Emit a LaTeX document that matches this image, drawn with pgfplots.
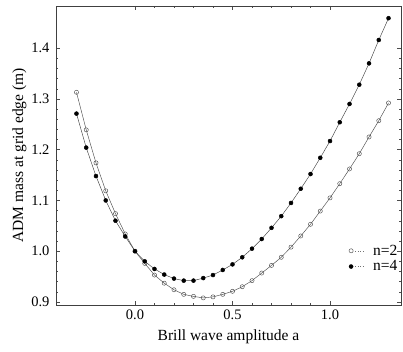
\documentclass[border=0pt]{standalone}
\usepackage{pgfplots}
\pgfplotsset{compat=1.18}
\usepackage{fontspec}
\setmainfont{Liberation Serif}

% ADM mass at the grid edge versus Brill wave amplitude, n = 2 and n = 4
\pgfplotstableread{
a      n2     n4
-0.30  1.313  1.271
-0.25  1.239  1.204
-0.20  1.174  1.148
-0.15  1.119  1.100
-0.10  1.074  1.060
-0.05  1.034  1.029
 0.00  1.000  1.000
 0.05  0.976  0.980
 0.10  0.953  0.965
 0.15  0.937  0.954
 0.20  0.924  0.946
 0.25  0.915  0.942
 0.30  0.911  0.942
 0.35  0.908  0.947
 0.40  0.910  0.953
 0.45  0.915  0.963
 0.50  0.921  0.974
 0.55  0.930  0.988
 0.60  0.942  1.005
 0.65  0.957  1.024
 0.70  0.972  1.046
 0.75  0.988  1.069
 0.80  1.008  1.095
 0.85  1.030  1.123
 0.90  1.053  1.152
 0.95  1.079  1.184
 1.00  1.105  1.217
 1.05  1.133  1.254
 1.10  1.162  1.290
 1.15  1.192  1.328
 1.20  1.225  1.370
 1.25  1.257  1.416
 1.30  1.292  1.459
}\mass

\begin{document}
\begin{tikzpicture}
\useasboundingbox (0pt,0pt) rectangle (403pt,351pt);
\begin{axis}[
  at={(56pt,46pt)}, anchor=south west,
  scale only axis, width=345pt, height=299pt,
  xmin=-0.405, xmax=1.364, ymin=0.894, ymax=1.483,
  xtick={0,0.5,1}, ytick={0.9,1.0,1.1,1.2,1.3,1.4},
  minor x tick num=4, minor y tick num=4,
  tick align=inside, major tick length=4pt, minor tick length=2pt,
  tick style={black!70, line width=0.4pt},
  axis line style={black!75, line width=0.6pt},
  /pgf/number format/.cd, fixed, fixed zerofill, precision=1, assume math mode=true,
  /pgfplots/.cd,
  tick label style={font=\fontsize{14.5}{16}\selectfont},
  label style={font=\fontsize{15.5}{18}\selectfont},
  xlabel={Brill wave amplitude a},
  ylabel={ADM mass at grid edge (m)},
  xticklabel style={yshift=-1pt},
  yticklabel style={xshift=-3pt},
  xlabel style={yshift=-3pt},
  ylabel style={yshift=-2pt},
  legend cell align=left,
  legend style={draw=none, fill=none, at={(0.84,0.215)}, anchor=north west,
    font=\fontsize{15.5}{17}\selectfont, row sep=0pt},
  legend image code/.code={
    \draw[dotted, black!55, line width=0.5pt, mark=none] (0.15cm,0cm) -- (0.42cm,0cm);
    \path[draw=none, fill=none, mark=none] (0cm,0cm) -- (0.7cm,0cm);
    \draw plot[only marks] coordinates {(0cm,0cm)};
  },
]
\addplot[black!70, line width=0.45pt, mark=o,
  mark options={black!70, line width=0.45pt, scale=1.05}] table[x=a, y=n2] {\mass};
\addlegendentry{n=2}
\addplot[black!75, line width=0.45pt, mark=*,
  mark options={black, scale=1.0}] table[x=a, y=n4] {\mass};
\addlegendentry{n=4}
\end{axis}
\end{tikzpicture}
\end{document}
